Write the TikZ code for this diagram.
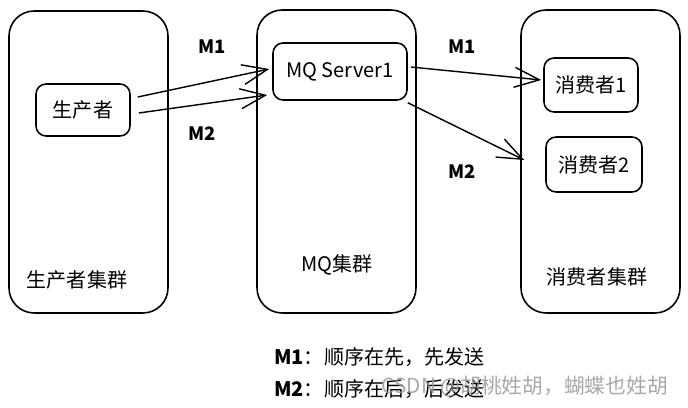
\documentclass[tikz,border=0pt]{standalone}
\usepackage{fontspec}
\setmainfont{Noto Sans CJK SC}
\usepackage{tikz}
\usetikzlibrary{arrows.meta}
\tikzset{>=stealth}
\tikzset{
  cluster/.style={draw, line width=0.9pt, rounded corners=0.5cm,
    minimum width=3.18cm, minimum height=6.04cm},
  member/.style={draw, line width=0.9pt, rounded corners=0.2cm,
    font=\fontsize{11.4}{14}\selectfont},
  msg/.style={line width=0.8pt, -{Straight Barb[length=5mm,width=4mm,line width=0.8pt]}},
  lbl/.style={font=\fontsize{11.4}{14}\selectfont},
  mark label/.style={font=\fontsize{10.5}{13}\selectfont\bfseries}
}

\begin{document}
\begin{tikzpicture}[x=0.02cm, y=-0.02cm]
    \useasboundingbox (0,0) rectangle (688,408);
    % clusters
    \node[cluster](prodcluster) at (88.5,162) {};
    \node[cluster, minimum height=6.06cm](mqcluster) at (336.5,161.5) {};
    \node[cluster, minimum height=6.06cm](conscluster) at (600.5,161.5) {};
    \node[lbl](prodname) at (77,280) {生产者集群};
    \node[lbl](mqname) at (337,265) {MQ集群};
    \node[lbl](consname) at (597,277) {消费者集群};
    % members
    \node[member, minimum width=1.88cm, minimum height=1.04cm](producer) at (83,110) {生产者};
    \node[member, minimum width=2.68cm, minimum height=1.14cm](mqserver) at (340,71.5) {MQ Server1};
    \node[member, minimum width=1.88cm, minimum height=1.08cm](consumer1) at (591,85) {消费者1};
    \node[member, minimum width=1.92cm, minimum height=1.1cm](consumer2) at (594,164.5) {消费者2};
    % messages
    \draw[msg] ([shift={(7,-13)}]producer.east) -- ([shift={(-3,-2.5)}]mqserver.west);
    \draw[msg] ([shift={(8,3)}]producer.east) -- ([shift={(-5,23.5)}]mqserver.west);
    \draw[msg] ([shift={(3,-4.5)}]mqserver.east) -- ([shift={(-2,-5)}]consumer1.west);
    \draw[msg] ([shift={(0,2)}]mqserver.south east) -- ([shift={(-21,-4.5)}]consumer2.west);
    \node[mark label](m1a) at (212,47) {M1};
    \node[mark label](m2a) at (202,134) {M2};
    \node[mark label](m1b) at (462,47) {M1};
    \node[mark label](m2b) at (462,172) {M2};
    % legend
    \node[lbl, anchor=west](legend1) at (268,357) {\textbf{M1}：顺序在先，先发送};
    \node[lbl, anchor=west](legend2) at (268,389) {\textbf{M2}：顺序在后，后发送};
    \node[lbl, anchor=east, text=black!40, opacity=0.85, font=\fontsize{11.8}{14}\selectfont](mark) at (674,387) {CSDN @胡桃姓胡，蝴蝶也姓胡};
\end{tikzpicture}
\end{document}
